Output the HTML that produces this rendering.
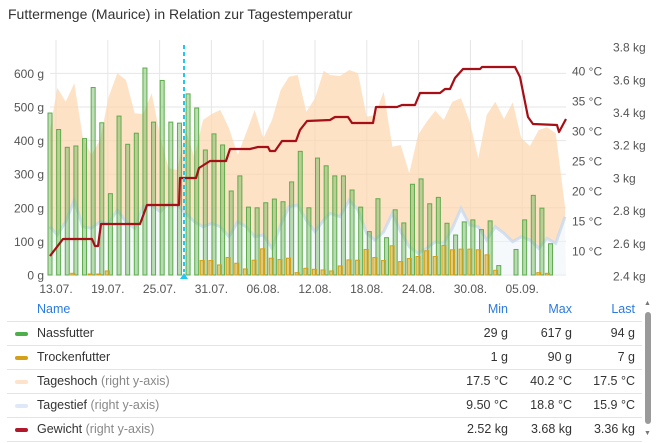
<!DOCTYPE html>
<html><head><meta charset="utf-8"><style>
body{margin:0;width:656px;height:443px;background:#fff;font-family:"Liberation Sans",sans-serif;overflow:hidden;position:relative}
.t{position:absolute;left:8px;top:6px;font-size:14px;color:#333}
.tbl{position:absolute;left:0;top:298px;width:642px;font-size:12.5px;color:#333}
.row{position:absolute;left:0;width:642px;height:24px}
.row span{position:absolute;top:4px}
.sep{position:absolute;left:7px;width:635px;height:1px;background:#e4e4e4}
.sw{position:absolute;left:15px;top:10px!important;width:13px;height:4px;border-radius:2px}
.g{color:#888}
</style></head><body>
<div class="t">Futtermenge (Maurice) in Relation zur Tagestemperatur</div>
<svg id="c" width="656" height="300" style="position:absolute;left:0;top:0"></svg>
<div class="tbl" id="tb"></div>
<div style="position:absolute;left:645px;top:312px;width:6px;height:112px;background:#9a9a9a;border-radius:3px"></div>
<div style="position:absolute;left:644px;top:300px;font-size:7px;color:#777">▲</div>
<div style="position:absolute;left:644px;top:430px;font-size:7px;color:#777">▼</div>
<script>
let s='';
for(let i=0;i<10;i++){let x=56+i*51.8;s+=`<line x1="${x}" y1="40" x2="${x}" y2="276" stroke="#e6e6e6"/>`;}
for(let i=0;i<=6;i++){let y=275-i*33.6;s+=`<line x1="50" y1="${y}" x2="566" y2="${y}" stroke="#e6e6e6"/>`;
s+=`<text x="44" y="${y+4.5}" text-anchor="end" font-size="12" fill="#555">${i*100} g</text>`;}
for(let t=10;t<=40;t+=5){let y=311-6*t;s+=`<text x="572" y="${y+4.5}" font-size="12" fill="#555">${t} °C</text>`;}
const kg=['2.4 kg','2.6 kg','2.8 kg','3 kg','3.2 kg','3.4 kg','3.6 kg','3.8 kg'];
kg.forEach((k,i)=>{let y=276-i*32.7;s+=`<text x="613" y="${y+4.5}" font-size="12" fill="#555">${k}</text>`;});
const dl=['13.07.','19.07.','25.07.','31.07.','06.08.','12.08.','18.08.','24.08.','30.08.','05.09.'];
dl.forEach((d,i)=>{s+=`<text x="${56+i*51.8}" y="293" text-anchor="middle" font-size="12" fill="#555">${d}</text>`;});
const z1h=[[150,270],[172,143],[197,185],[223,130],[248,290],[274,345],[300,300],[326,170],[352,100],[378,120],[404,220],[429,222],[455,160],[481,290],[506,385],[532,390],[557,270],[583,350],[609,240],[635,222],[661,210],[687,265],[713,345],[738,280],[764,210],[790,295],[816,240],[842,150],[867,110],[893,105],[919,215],[945,175],[971,92]];
const z2h=[[0,105],[30,108],[58,90],[84,100],[110,230],[135,225],[161,155],[187,320],[212,315],[238,400],[264,285],[290,245],[316,212],[341,240],[367,185],[393,175],[419,245],[445,355],[470,225],[496,185],[522,237],[548,187],[574,295],[600,318],[626,270],[651,262],[677,280],[705,500]];
const z1l=[[150,560],[172,585],[197,545],[223,480],[248,560],[274,565],[300,545],[326,550],[352,510],[378,545],[404,565],[429,500],[455,495],[481,515],[506,490],[532,495],[557,520],[583,545],[609,560],[635,550],[661,560],[687,590],[713,545],[738,560],[764,590],[790,585],[816,625],[842,555],[867,500],[893,495],[919,540],[945,575],[971,540]];
const z2l=[[0,520],[30,530],[58,480],[84,510],[110,580],[135,600],[161,575],[187,520],[212,575],[238,620],[264,640],[290,625],[316,605],[341,610],[367,565],[393,505],[419,555],[445,560],[470,600],[496,560],[522,580],[548,605],[574,590],[600,600],[626,625],[651,595],[677,610],[705,530]];
const cv=(a,o)=>a.map(p=>[o+p[0]/3,40+p[1]/3]);
const H=cv(z1h,0).concat(cv(z2h,330)),L=cv(z1l,0).concat(cv(z2l,330));
const pt=a=>a.map(p=>p[0].toFixed(1)+','+p[1].toFixed(1)).join(' ');
s+=`<polygon points="${pt(H)} ${pt(L.slice().reverse())}" fill="#fdd6ad" fill-opacity="0.7"/>`;
s+=`<polygon points="${pt(L)} 566,275 50,275" fill="#eef3fa" fill-opacity="0.5"/>`;
s+=`<polyline points="${pt(L)}" fill="none" stroke="#c9daee" stroke-width="3" opacity="0.8"/>`;
const G=[482,433,380,384,406,558,453,242,473,389,422,616,455,579,455,452,539,497,372,420,387,250,295,202,200,215,226,218,277,368,200,348,325,295,295,253,202,129,227,111,194,155,270,286,212,231,154,119,158,164,135,161,28,0,76,164,237,199,93];
const Y={2:5,4:1,5:2,6:12,17:43,18:43,19:30,20:52,21:35,22:18,23:44,24:78,25:50,26:46,27:50,28:7,29:20,30:17,31:15,32:12,33:27,34:45,35:44,36:76,37:52,38:43,39:87,40:40,41:49,42:55,43:72,44:55,45:88,46:75,47:77,48:77,49:75,50:60,51:14,56:7,57:5};
G.forEach((v,n)=>{if(!v)return;let x=50+8.63*n-2,h=v*0.336;s+=`<rect x="${x}" y="${275-h}" width="4" height="${h}" fill="#5cad4a" fill-opacity="0.4" stroke="#5cad4a" stroke-width="1"/>`;});
for(const n in Y){let v=Y[n],x=50+8.63*n+3.5,h=Math.max(v*0.336,1);s+=`<rect x="${x}" y="${275-h}" width="4" height="${h}" fill="#d6a615" fill-opacity="0.55" stroke="#d4a017" stroke-width="1"/>`;}
const W=[[50,256],[63,239],[92,239],[95,246],[98,246],[101,224],[140,224],[147,205],[179,205],[180,178],[196,178],[199,168],[210,161],[226,161],[230,149],[250,149],[258,147],[268,147],[270,151],[275,151],[282,141],[296,141],[300,130],[307,121],[330,120],[335,117],[348,117],[352,123],[373,123],[376,107],[397,107],[402,105],[415,105],[420,93],[440,93],[445,89],[450,89],[455,78],[463,69],[480,69],[482,67],[515,67],[520,77],[528,117],[533,124],[557,125],[559,132],[566,119]];
s+=`<polyline points="${pt(W)}" fill="none" stroke="#a50f15" stroke-width="2.2" stroke-linejoin="round"/>`;
s+=`<line x1="184" y1="45" x2="184" y2="272" stroke="#1ec8f0" stroke-width="2" stroke-dasharray="4,3"/>`;
s+=`<polygon points="180,279 188,279 184,273" fill="#1ec8f0"/>`;
document.getElementById('c').innerHTML=s;
const rows=[['Name','Min','Max','Last',null,''],['Nassfutter','29 g','617 g','94 g','#4daf4a',''],['Trockenfutter','1 g','90 g','7 g','#d4a017',''],['Tageshoch','17.5 °C','40.2 °C','17.5 °C','#fde3cc',' (right y-axis)'],['Tagestief','9.50 °C','18.8 °C','15.9 °C','#dfe8f6',' (right y-axis)'],['Gewicht','2.52 kg','3.68 kg','3.36 kg','#b2182b',' (right y-axis)']];
let h='';rows.forEach((r,i)=>{let top=i*24,c=i==0?'color:#2a7ae2':'';
h+=`<div class="row" style="top:${top}px;${c}">`;
if(r[4])h+=`<span class="sw" style="background:${r[4]}"></span>`;
h+=`<span style="left:37px">${r[0]}<span class="g" style="position:static">${r[5]}</span></span>`;
h+=`<span style="right:134px">${r[1]}</span><span style="right:70px">${r[2]}</span><span style="right:7px">${r[3]}</span></div>`;
h+=`<div class="sep" style="top:${top+23}px"></div>`;});
document.getElementById('tb').innerHTML=h;
</script>
</body></html>
